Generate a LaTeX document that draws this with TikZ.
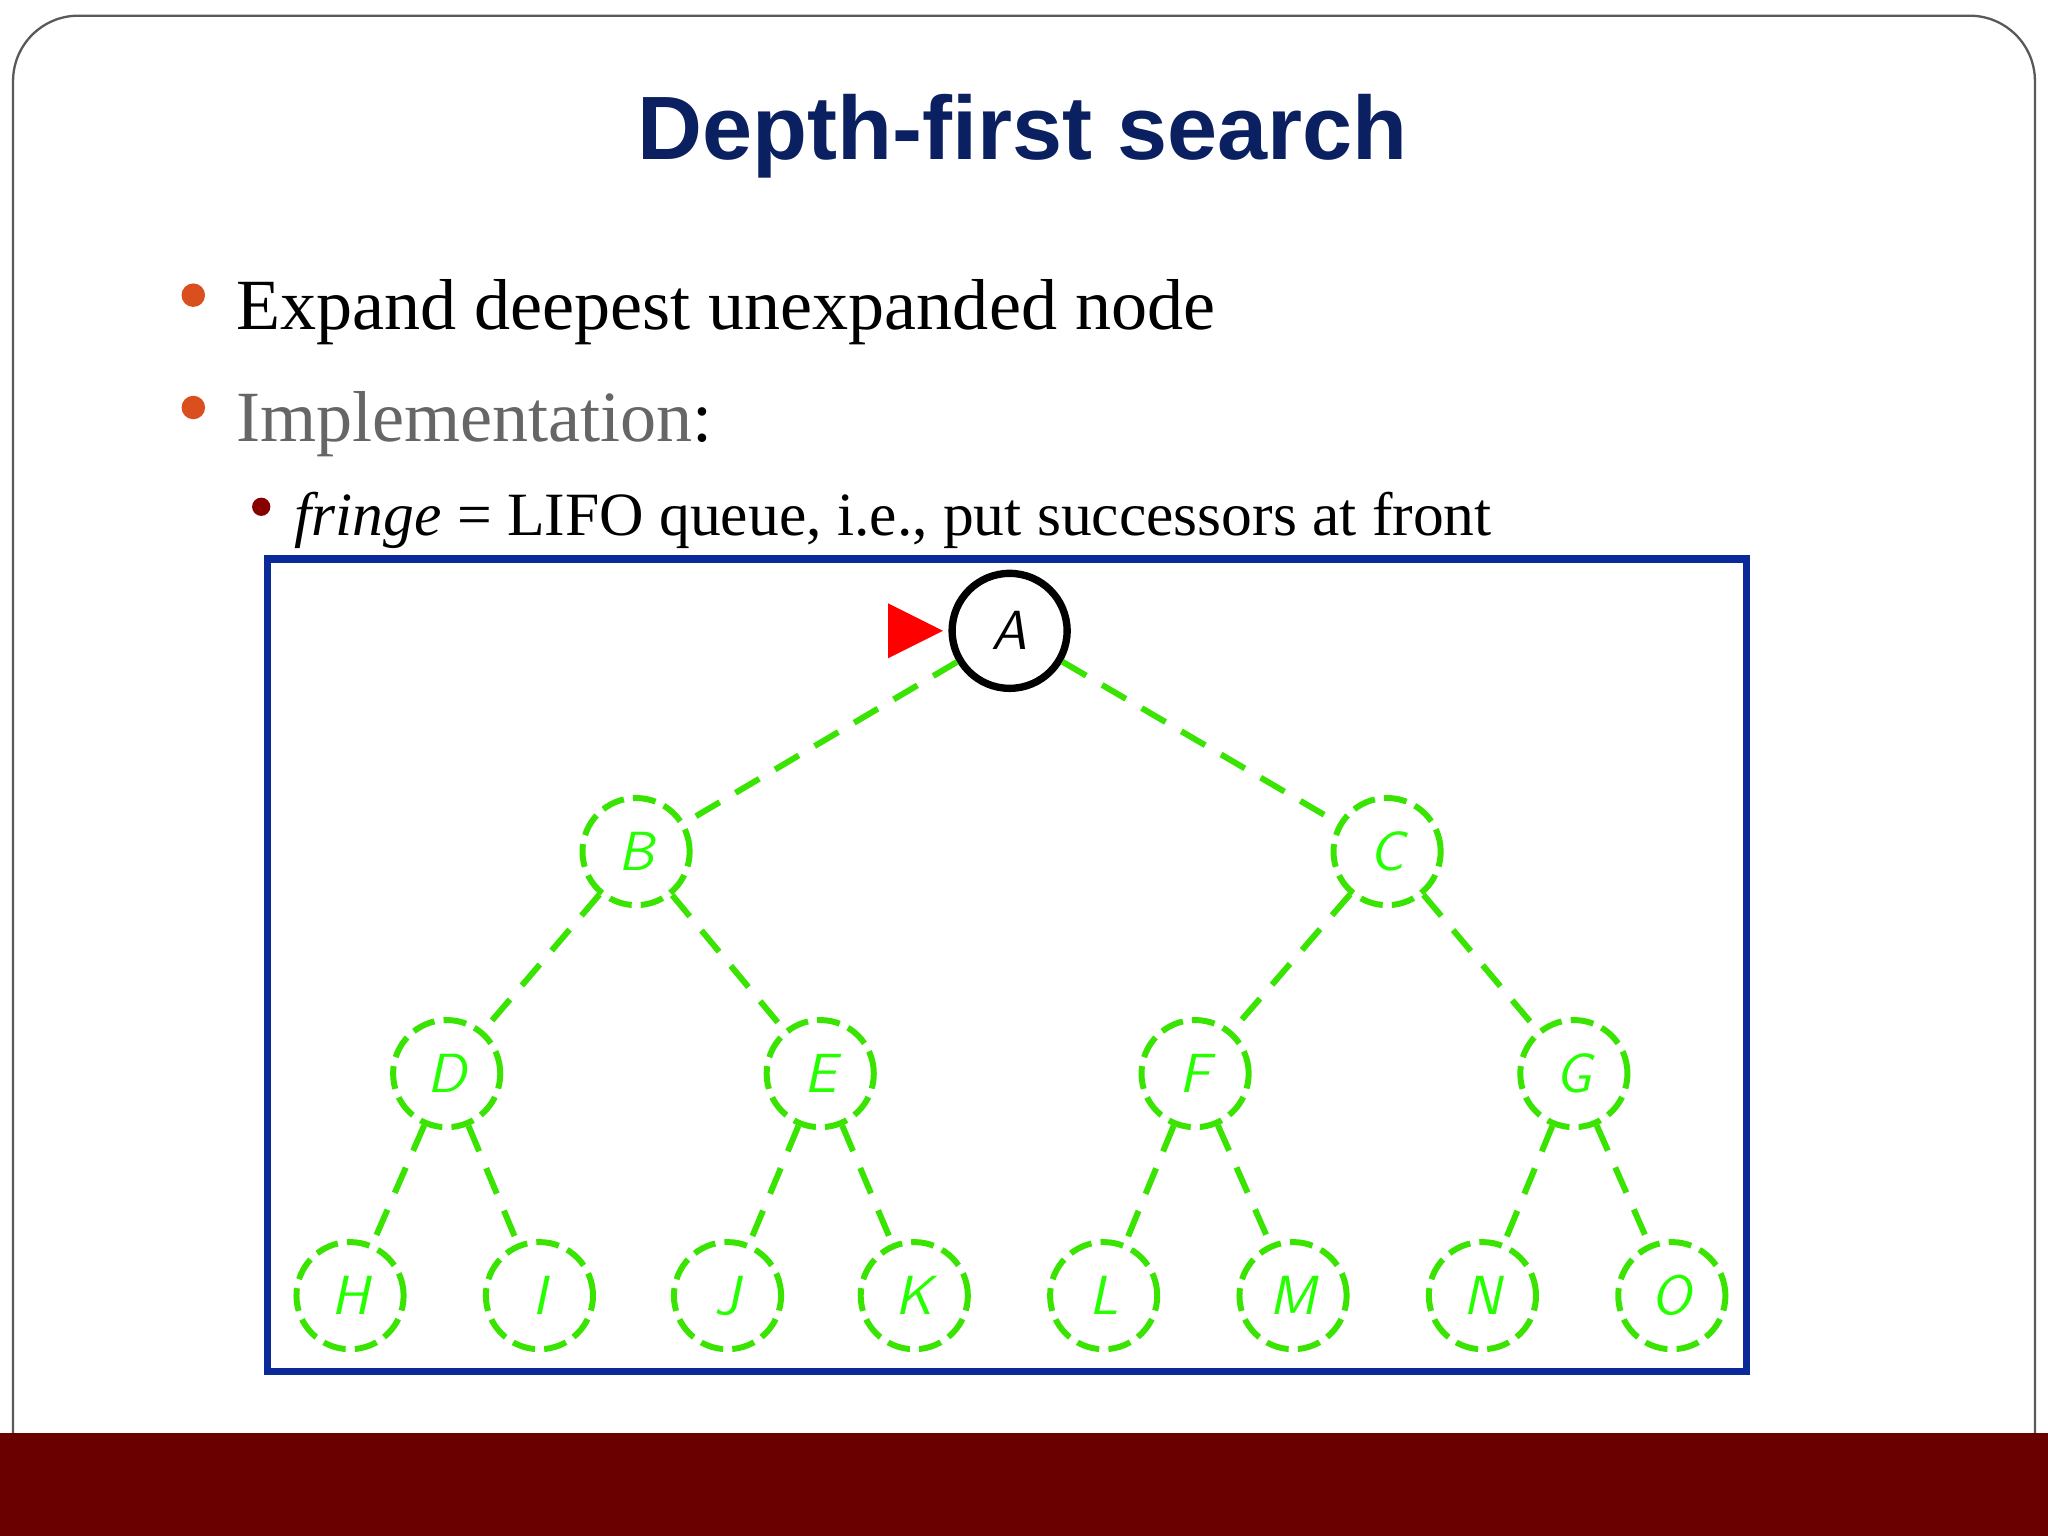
\documentclass[tikz,border=0pt]{standalone}
\usepackage{fontspec}
\setmainfont{Liberation Serif}
\newfontfamily\titlefont{Liberation Sans}
\begin{document}
\begin{tikzpicture}[x=0.01cm,y=-0.01cm,
  gnode/.style={circle,draw=green!85!black!70!lime,dashed,dash pattern=on 5pt off 2pt,line width=1.3pt,minimum size=0.82cm,inner sep=0pt,text=green!80!lime,font=\sffamily\itshape\large},
  gedge/.style={draw=green!85!black!70!lime,dash pattern=on 6pt off 4pt,line width=1.3pt}]
\definecolor{navy}{HTML}{0B2060}
\definecolor{band}{HTML}{6B0000}
\definecolor{bul}{HTML}{D9501E}
\definecolor{boxblue}{HTML}{0A2A9A}
\useasboundingbox (0,0) rectangle (1568,1176);
\fill[white] (0,0) rectangle (1568,1176);
\draw[gray!70!black,line width=0.5pt,rounded corners=0.5cm] (10,1140) -- (10,12) -- (1558,12) -- (1558,1140);
\fill[band] (0,1097) rectangle (1568,1176);
\node[font=\titlefont\bfseries\fontsize{19.6}{24}\selectfont,text=navy] (title) at (783,104) {Depth-first search};
\fill[bul] (148,226) circle (9);
\node[anchor=base west,font=\fontsize{15.7}{19}\selectfont,inner sep=0] (b1) at (180,252) {Expand deepest unexpanded node};
\fill[bul] (148,312) circle (9);
\node[anchor=base west,font=\fontsize{15.7}{19}\selectfont,inner sep=0] (b2) at (180,338) {\textcolor{gray!80!black}{Implementation}:};
\fill[band!80!red] (200,388) circle (7);
\node[anchor=base west,font=\fontsize{13.4}{16}\selectfont,inner sep=0] (b3) at (225,410) {\textit{fringe} = LIFO queue, i.e., put successors at front};
\draw[boxblue,line width=1.6pt] (205,428) rectangle (1337,1050);
\node[circle,draw=black,line width=1.6pt,minimum size=0.88cm,inner sep=0pt,font=\sffamily\itshape\large] (A) at (773,483) {A};
\fill[red] (680,462) -- (722,483) -- (680,504) -- cycle;
\foreach \n/\x/\y in {B/487/652,C/1062/652,D/342/822,E/628/822,F/915/822,G/1205/822,H/268/992,I/413/992,J/557/992,K/700/992,L/845/992,M/990/992,N/1135/992,O/1280/992}
  \node[gnode] (\n) at (\x,\y) {\n};
\foreach \a/\b in {A/B,A/C,B/D,B/E,C/F,C/G,D/H,D/I,E/J,E/K,F/L,F/M,G/N,G/O}
  \draw[gedge] (\a) -- (\b);
\end{tikzpicture}
\end{document}
